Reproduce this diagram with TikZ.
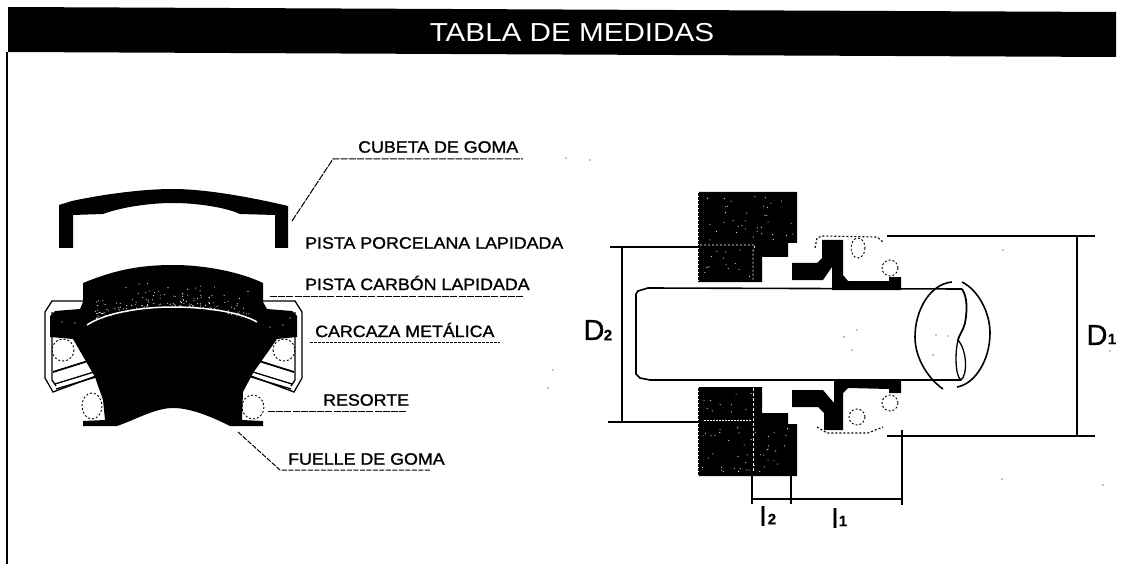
\documentclass[tikz,border=0pt]{standalone}
\usepackage{fontspec}
\setmainfont{Liberation Sans}
\newfontfamily\labf{Liberation Sans}[FakeBold=1.2,FakeStretch=1.08]
\newfontfamily\titf{Liberation Sans}[FakeStretch=1.14]
\newfontfamily\dimf{Liberation Sans}[FakeBold=0.8]
\newcommand{\housing}{%
  \draw[thinl] (84,301)--(52,301)--(45,312)--(45,378)--(53,392)--(96,376);
  \draw[thinl] (52,312)--(52,380)--(56,386);
  \draw[thickl] (53,372)--(88,361);
  \draw[thinl] (55,384)--(94,372);
  \draw[thinl] (56,389)--(96,377);
  \draw[springl] (63,350) circle[radius=11];
}
\tikzset{
  x=1pt,y=-1pt,
  labeltext/.style={font=\labf\fontsize{16.5}{18}\selectfont,inner sep=0,anchor=west,text=black},
  dimtext/.style={font=\dimf\fontsize{29}{31}\selectfont,inner sep=0,text=black},
  subtext/.style={font=\dimf\bfseries\fontsize{15}{16}\selectfont,inner sep=0,text=black},
  leader/.style={line width=1pt,dash pattern=on 7pt off 1.2pt,black},
  thinl/.style={line width=1.3pt,black},
  thickl/.style={line width=1.8pt,black},
  springl/.style={line width=.9pt,dash pattern=on 2pt off 2pt,black},
  casing/.style={line width=1.1pt,dash pattern=on 2pt off 2pt,black},
  dimline/.style={line width=2pt,black},
  shaftline/.style={line width=1.6pt,black},
  speck/.style={white},
}
\begin{document}
\begin{tikzpicture}
\useasboundingbox (0,0) rectangle (1130,564);
\fill[white] (0,0) rectangle (1130,564);
% header
\fill[black] (8,7)--(1116,12)--(1116,57)--(8,52)--cycle;
\node[font=\titf\fontsize{26}{28}\selectfont,text=white,inner sep=0] (title) at (572,33) {TABLA DE MEDIDAS};
\draw[line width=1.6pt,black] (7,52)--(7,564);

% ---- left drawing: cup
\fill[black] (59,205)--(72,201) .. controls (90,197) and (135,189) .. (173,189)
  .. controls (205,189) and (250,197) .. (288,206) --(288,248)--(275,248)--(275,215)--(240,214)
  .. controls (225,207) and (195,203) .. (173,203) .. controls (150,203) and (122,207) .. (103,214)
  --(73,215)--(73,248)--(59,248)--cycle;
% housing
\housing
\begin{scope}[xshift=347pt,xscale=-1]\housing\end{scope}
% body
\fill[black] (83,283) .. controls (110,272) and (135,265) .. (173,265)
  .. controls (205,265) and (240,272) .. (263,283) --(263,302)--(267,309)--(292,311)--(297,316)--(297,337)
  --(277,339)--(253,373)--(243,392)--(242,420)--(263,421)--(263,426)--(230,426)
  .. controls (210,416) and (190,408) .. (173,408) .. controls (155,408) and (135,420) .. (117,426)
  --(83,426)--(83,421)--(105,420)--(103,400)--(95,377)--(73,339)--(50,337)--(50,316)--(55,311)--(80,309)--(83,302)--cycle;
\draw[white,line width=1.5pt] (87,325) .. controls (105,313) and (140,307) .. (173,307) .. controls (205,307) and (240,312) .. (257,322);
\pgfmathsetseed{11}
\foreach \i in {1,...,170}{
  \pgfmathsetmacro{\px}{173+(rnd-.5)*155}
  \pgfmathsetmacro{\py}{307-rnd*rnd*30+(\px-173)*(\px-173)*0.0022}
  \fill[speck] (\px,\py) circle[radius=.55];
}
\fill[speck] (62,322) circle[radius=.7] (75,323) circle[radius=.7] (283,325) circle[radius=.7] (270,327) circle[radius=.7] (290,318) circle[radius=.7];
% lower springs
\draw[springl] (92,406) ellipse[x radius=10,y radius=13];
\draw[springl] (253,407) ellipse[x radius=11,y radius=12];

% ---- labels and leaders
\node[labeltext] (cubeta) at (358,147) {CUBETA DE GOMA};
\node[labeltext] (porcelana) at (305,243) {PISTA PORCELANA LAPIDADA};
\node[labeltext] (carbon) at (305,283) {PISTA CARBÓN LAPIDADA};
\node[labeltext] (carcaza) at (315,330) {CARCAZA METÁLICA};
\node[labeltext] (resorte) at (323,400) {RESORTE};
\node[labeltext] (fuelle) at (288,459) {FUELLE DE GOMA};
\coordinate (c1) at (292,221); \coordinate (c2) at (333,159); \coordinate (c3) at (523,159);
\coordinate (p1) at (270,296); \coordinate (p2) at (523,296);
\coordinate (m1) at (310,342); \coordinate (m2) at (500,342);
\coordinate (r1) at (268,411); \coordinate (r2) at (407,411);
\coordinate (f1) at (238,432); \coordinate (f2) at (280,470); \coordinate (f3) at (430,470);
\draw[leader] (c1)--(c2)--(c3);
\draw[leader] (p1)--(p2);
\draw[leader,dash pattern=on 3pt off 1pt] (m1)--(m2);
\draw[leader] (r1)--(r2);
\draw[leader,dash pattern=on 5pt off 1.5pt] (f1)--(f2)--(f3);

% ---- right drawing: blocks
\fill[black] (698,192)--(797,192)--(797,243)--(788,243)--(788,257)--(762,257)--(762,282)--(698,282)--cycle;
\fill[black] (698,387)--(762,387)--(762,413)--(788,413)--(788,424)--(797,424)--(797,476)--(698,476)--cycle;
\draw[white,line width=.8pt,dash pattern=on 2pt off 2pt] (700,245)--(755,245)--(753,251)--(753,280);
\draw[white,line width=.8pt,dash pattern=on 1.5pt off 1.5pt] (704,420)--(752,420);
\draw[white,line width=.8pt,dash pattern=on 3pt off 2pt] (753,388)--(753,472);
\draw[white,line width=.8pt,dash pattern=on 1pt off 3pt] (698,192)--(698,282) (698,387)--(698,476);
\pgfmathsetseed{5}
\foreach \i in {1,...,36}{\fill[speck] ({702+rnd*92},{196+rnd*44}) circle[radius=.55];}
\foreach \i in {1,...,14}{\fill[speck] ({702+rnd*56},{250+rnd*28}) circle[radius=.55];}
\foreach \i in {1,...,45}{\fill[speck] ({702+rnd*92},{426+rnd*46}) circle[radius=.55];}
\foreach \i in {1,...,10}{\fill[speck] ({702+rnd*56},{391+rnd*28}) circle[radius=.55];}
% shaft
\draw[shaftline] (962,289)--(648,288)--(638,291)--(636,294)--(636,374)--(640,378)--(650,380)--(961,380);
% seal
\fill[black] (792,263)--(817,263)--(822,258)--(822,240)--(843,240)--(843,275)--(848,281)--(889,281)--(889,277)--(901,277)--(901,290)--(832,290)--(832,267)--(823,280)--(792,280)--cycle;
\fill[black] (792,390)--(823,390)--(834,403)--(834,380)--(901,380)--(901,393)--(889,393)--(889,389)--(848,388)--(843,393)--(843,430)--(824,430)--(824,413)--(818,407)--(792,407)--cycle;
\draw[casing] (815,248)--(817,238)--(822,236)--(877,237)--(883,242);
\draw[casing] (817,427)--(827,433)--(868,433)--(883,427);
\draw[springl] (858,248) ellipse[x radius=7,y radius=10];
\draw[springl] (890,268) circle[radius=8];
\draw[springl] (857,417) circle[radius=8];
\draw[springl] (890,403) circle[radius=8];
% shaft break
\draw[shaftline] (952,282) .. controls (930,284) and (915,310) .. (915,337) .. controls (915,360) and (930,380) .. (943,389);
\draw[shaftline] (962,282) .. controls (978,290) and (990,312) .. (990,333) .. controls (990,360) and (975,384) .. (957,387);
\draw[thickl] (962,289) .. controls (968,298) and (967,312) .. (965,323) .. controls (963,331) and (959,335) .. (958,340);
\draw[thinl] (958,340) .. controls (955,352) and (955,376) .. (961,380) .. controls (967,376) and (968,352) .. (958,340);
% dimensions
\coordinate (d1a) at (887,236); \coordinate (d1b) at (1095,236);
\coordinate (d1c) at (887,436); \coordinate (d1d) at (1095,436);
\coordinate (d1e) at (1077,236); \coordinate (d1f) at (1077,436);
\draw[dimline] (d1a)--(d1b) (d1c)--(d1d) (d1e)--(d1f);
\coordinate (d2a) at (610,247); \coordinate (d2b) at (698,247);
\coordinate (d2c) at (608,422); \coordinate (d2d) at (698,422);
\coordinate (d2e) at (622,247); \coordinate (d2f) at (622,422);
\draw[dimline] (d2a)--(d2b) (d2c)--(d2d) (d2e)--(d2f);
\coordinate (l1) at (752,476); \coordinate (l1b) at (752,504);
\coordinate (l2) at (791,476); \coordinate (l2b) at (791,504);
\coordinate (l3) at (902,430); \coordinate (l3b) at (902,505);
\coordinate (h1) at (752,499); \coordinate (h2) at (902,499);
\draw[dimline,line width=1.5pt] (l1)--(l1b) (l2)--(l2b);
\draw[dimline] (l3)--(l3b);
\draw[dimline,line width=1.8pt] (h1)--(h2);
\node[dimtext] (Done) at (1097,335) {D};
\node[subtext] (Donesub) at (1112,339) {1};
\node[dimtext] (Dtwo) at (594,330) {D};
\node[subtext] (Dtwosub) at (608,335) {2};
\node[inner sep=0,font=\dimf\fontsize{27}{29}\selectfont] (ltwo) at (763,516) {l};
\node[subtext] (ltwosub) at (772,519) {2};
\node[inner sep=0,font=\dimf\fontsize{27}{29}\selectfont] (lone) at (835,518) {l};
\node[subtext] (lonesub) at (843,521) {1};
% scan specks
\foreach \a/\b in {566/158,590/160,1003/250,1002/479,548/388,553/370,936/335,948/336,933/355,844/337,857/330,852/350,1110/351,1103/485}
  \fill[black] (\a,\b) circle[radius=.7];
\end{tikzpicture}
\end{document}
